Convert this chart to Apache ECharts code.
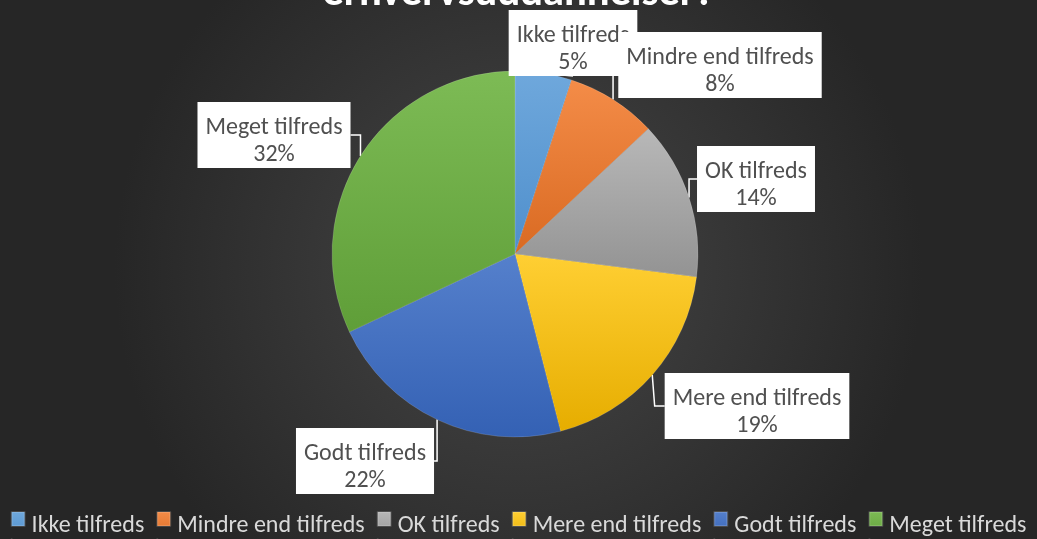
<!DOCTYPE html>
<html><head><meta charset="utf-8">
<script src="https://cdn.jsdelivr.net/npm/echarts@6/dist/echarts.min.js"></script>
<style>html,body{margin:0;padding:0;background:#333}#c{width:1037px;height:539px}</style>
</head><body><div id="c"></div>
<script>
const categories = ['Ikke tilfreds','Mindre end tilfreds','OK tilfreds','Mere end tilfreds','Godt tilfreds','Meget tilfreds'];
const values = [5, 8, 14, 19, 22, 32];
const colors = [['#6fa8dc','#4f8fcc'],['#f48c48','#d96a22'],['#b8b8b8','#939393'],['#ffcf33','#e6ad00'],['#5580cc','#3461b4'],['#7dbb55','#5f9e38']];
const labelPos = [[573,43],[720,65],[756,179],[757,406],[365,461],[274,135]];
const FONT = "Carlito, 'Liberation Sans Narrow', 'Noto Sans', sans-serif";
const chart = echarts.init(document.getElementById('c'));
chart.setOption({
  backgroundColor: {type:'radial', x:0.5, y:0.5, r:0.75, colorStops:[{offset:0,color:'#474747'},{offset:1,color:'#262626'}]},
  title: {text:'erhvervsuddannelser?', left:'center', top:-32, textStyle:{color:'#ffffff', fontSize:42.5, fontWeight:'bold', fontFamily:FONT}},
  legend: {bottom:-6, left:'center', itemWidth:13, itemHeight:27, itemGap:12,
    icon:'path://M0,0h13v14h-13zM0,27h0.05v0.05h-0.05z',
    textStyle:{color:'#d9d9d9', fontSize:24, fontFamily:FONT, padding:[0,0,0,2]}},
  series: [{
    type:'pie', center:[515,254], radius:[0,183], startAngle:90, clockwise:true,
    data: categories.map((n,i)=>({name:n, value:values[i],
      itemStyle:{color:{type:'linear',x:0,y:0,x2:0,y2:1,colorStops:[{offset:0,color:colors[i][0]},{offset:1,color:colors[i][1]}]}}})),
    itemStyle:{borderColor:'rgba(255,255,255,0.15)', borderWidth:0.5},
    label:{show:true, formatter:'{sp|}\n{t|{b}}\n{t|{d}%}', backgroundColor:'#ffffff', color:'#505050', fontSize:24, lineHeight:27, padding:[3,8,0,8], fontFamily:FONT, align:'center',
      rich:{sp:{fontSize:8, lineHeight:9}, t:{fontSize:24, lineHeight:27, color:'#505050', fontFamily:FONT}}},
    labelLine:{show:true, length:10, length2:10, lineStyle:{color:'#ffffff', width:1.5}},
    labelLayout: function(p){ const pos=labelPos[p.dataIndex]; return {x:pos[0], y:pos[1], align:'center', verticalAlign:'middle'}; },
    emphasis:{disabled:true}
  }]
});
</script></body></html>
